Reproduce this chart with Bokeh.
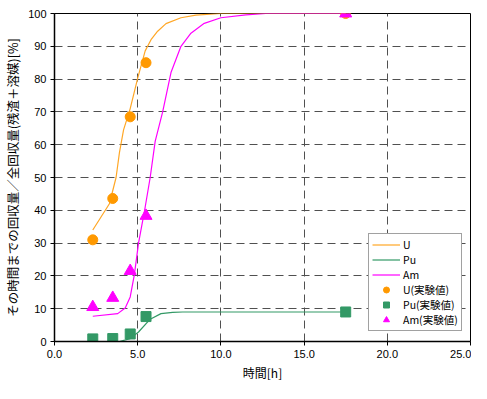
from bokeh.plotting import figure
from bokeh.models import Range1d, FixedTicker, PrintfTickFormatter, Legend
from bokeh.embed import file_html
from bokeh.resources import INLINE

# Calculated curves
u_curve_x = [2.3, 3.3, 3.7, 3.9, 4.15, 4.55, 5.0, 5.45, 5.8, 6.2, 6.7, 7.6, 8.5, 10.0, 17.5]
u_curve_y = [34, 42, 50, 57.5, 64.5, 71, 80.3, 88.6, 92, 94.6, 96.9, 98.7, 99.5, 100, 100]

pu_curve_x = [2.3, 3.9, 4.55, 5.05, 5.75, 6.4, 7.1, 7.7, 17.5]
pu_curve_y = [0, 0, 0.9, 2.9, 6.8, 8.5, 8.9, 9.0, 9.0]

am_curve_x = [2.3, 3.8, 4.25, 4.55, 4.8, 5.05, 5.45, 5.75, 6.05, 6.5, 7.0, 7.6, 8.2, 9.0, 10.0, 11.5, 12.7, 17.5]
am_curve_y = [7.7, 8.5, 10.2, 13.6, 20.4, 30, 41, 50, 61, 70, 82, 90, 94, 97, 98.7, 99.6, 100, 100]

# Experimental values
t_exp = [2.3, 3.5, 4.55, 5.5, 17.5]
u_exp = [31, 43.6, 68.5, 85, 100]
pu_exp = [0.8, 0.9, 2.3, 7.6, 9.0]
am_exp = [10.5, 13.3, 21.5, 38.3, 100]

x_ticks = [0, 5, 10, 15, 20, 25]
y_ticks = [0, 10, 20, 30, 40, 50, 60, 70, 80, 90, 100]

JP = "Noto Sans CJK JP"
NUM = "Liberation Sans"

p = figure(width=471, height=383, output_backend="svg", toolbar_location=None,
           x_range=Range1d(0, 25), y_range=Range1d(0, 100),
           min_border_left=48, min_border_right=1, min_border_top=13, min_border_bottom=37)

p.outline_line_color = "black"
p.outline_line_width = 1

for ax in (p.xaxis[0], p.yaxis[0]):
    ax.axis_line_color = "black"
    ax.axis_line_width = 1.5
    ax.major_tick_line_color = "black"
    ax.major_tick_in = 0
    ax.major_tick_out = 4
    ax.minor_tick_line_color = None
    ax.major_label_text_font = NUM
    ax.major_label_text_font_size = "11px"
    ax.major_label_text_color = "black"
    ax.axis_label_text_font = JP
    ax.axis_label_text_font_size = "12px"
    ax.axis_label_text_font_style = "normal"
    ax.axis_label_text_color = "black"
    ax.major_label_standoff = 4
    ax.axis_label_standoff = 3

p.yaxis.axis_label_text_font_size = "12.5px"
p.xaxis.ticker = FixedTicker(ticks=x_ticks)
p.yaxis.ticker = FixedTicker(ticks=y_ticks)
p.xaxis.formatter = PrintfTickFormatter(format="%.1f")
p.yaxis.formatter = PrintfTickFormatter(format="%d")
p.xaxis.axis_label = "時間[h]"
p.yaxis.axis_label = "その時間までの回収量／全回収量(残渣＋溶媒)[%]"

p.grid.grid_line_color = "#505050"
p.grid.grid_line_dash = "8 5"
p.grid.grid_line_width = 1
p.xgrid.ticker = FixedTicker(ticks=x_ticks)
p.ygrid.ticker = FixedTicker(ticks=y_ticks)

ORANGE_L = "#FFA726"
ORANGE = "#FF9900"
GREEN = "#339966"
MAGENTA = "#FF00FF"

r1 = p.line(u_curve_x, u_curve_y, line_color=ORANGE_L, line_width=1.2)
r2 = p.line(pu_curve_x, pu_curve_y, line_color=GREEN, line_width=1.2)
r3 = p.line(am_curve_x, am_curve_y, line_color=MAGENTA, line_width=1.2)
r4 = p.scatter(t_exp, u_exp, marker="circle", size=10, fill_color=ORANGE, line_color=ORANGE)
r5 = p.scatter(t_exp, pu_exp, marker="square", size=10, fill_color=GREEN, line_color=GREEN)
r6 = p.scatter(t_exp, am_exp, marker="triangle", size=12, fill_color=MAGENTA, line_color=MAGENTA)

legend = Legend(items=[("U", [r1]), ("Pu", [r2]), ("Am", [r3]),
                       ("U(実験値)", [r4]), ("Pu(実験値)", [r5]), ("Am(実験値)", [r6])],
                location=(314, 10))
legend.label_text_font = JP
legend.label_text_font_size = "10.5px"
legend.label_text_color = "black"
legend.label_height = 15
legend.glyph_height = 15
legend.glyph_width = 28
legend.label_standoff = 3
legend.spacing = 0
legend.padding = 3
legend.margin = 0
legend.border_line_color = "#444444"
legend.border_line_width = 1
legend.background_fill_color = "white"
legend.background_fill_alpha = 1
p.add_layout(legend, "center")

open("out.html", "w").write(file_html(p, INLINE))
